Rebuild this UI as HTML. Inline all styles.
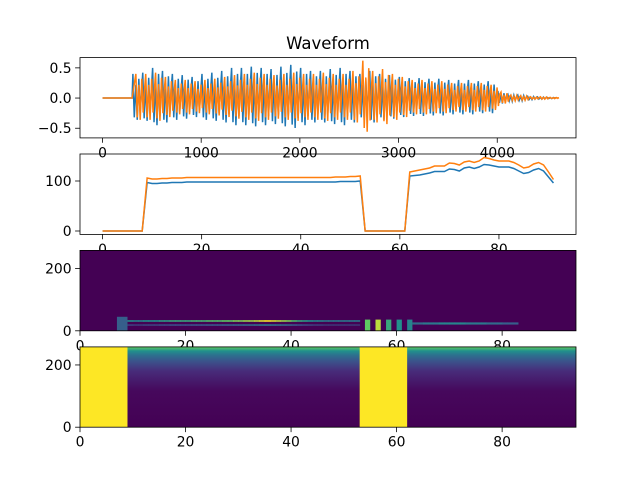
<!DOCTYPE html>
<html><head><meta charset="utf-8"><style>
html,body{margin:0;padding:0;background:#fff}
svg{display:block;font-family:"DejaVu Sans","Liberation Sans",sans-serif}
</style></head><body>
<svg id="fig" width="640" height="480" viewBox="0 0 640 480" xmlns="http://www.w3.org/2000/svg">
<defs>
<linearGradient id="vgrad" x1="0" y1="1" x2="0" y2="0">
<stop offset="0" stop-color="#440154"/><stop offset="0.45" stop-color="#46085c"/>
<stop offset="0.7" stop-color="#472c7a"/><stop offset="0.82" stop-color="#3b528b"/>
<stop offset="0.9" stop-color="#2c728e"/><stop offset="0.95" stop-color="#21918c"/>
<stop offset="1" stop-color="#5ec962"/></linearGradient>
</defs>
<text x="328" y="49" font-size="16.5" text-anchor="middle">Waveform</text>
</svg>
<script>
// ---- data ----
const waveBins = [300,400,500,600,700,800,900,1000,1100,1200,1300,1400,1500,1600,1700,1800,1900,2000,2100,2200,2300,2400,2500,2600,2700,2800,2900,3000,3100,3200,3300,3400,3500,3600,3700,3800,3900,4000,4100,4200,4300,4400,4500];
const waveBlue = [0.40,0.42,0.50,0.45,0.40,0.38,0.35,0.40,0.42,0.45,0.50,0.50,0.52,0.50,0.48,0.52,0.55,0.50,0.45,0.45,0.48,0.50,0.45,0.40,0.45,0.40,0.38,0.35,0.33,0.33,0.32,0.32,0.30,0.30,0.30,0.28,0.28,0.10,0.06,0.05,0.03,0.02,0.01];
const waveOrange = [0.40,0.40,0.42,0.35,0.30,0.30,0.28,0.30,0.32,0.35,0.38,0.40,0.42,0.40,0.38,0.40,0.42,0.40,0.40,0.42,0.40,0.40,0.45,0.62,0.45,0.48,0.40,0.35,0.30,0.30,0.28,0.28,0.25,0.25,0.25,0.25,0.22,0.10,0.05,0.04,0.02,0.02,0.01];
const waveEnd = 4570;
const pitchBlue = [0,0,0,0,0,0,0,0,0,97,95,95,96,96,97,97,97,98,98,98,98,98,98,98,98,98,98,98,98,98,98,98,98,98,98,98,98,98,98,98,98,98,98,98,98,98,98,98,99,99,99,99,100,0,0,0,0,0,0,0,0,0,110,111,112,114,116,119,119,119,124,123,120,126,128,125,128,133,132,130,128,128,128,125,120,115,117,122,125,120,108,96];
const pitchOrange = [0,0,0,0,0,0,0,0,0,106,104,104,105,105,106,106,106,107,107,107,107,107,107,107,107,107,107,107,107,107,107,107,107,107,107,107,107,107,107,107,107,107,107,107,107,107,107,108,108,108,109,109,110,0,0,0,0,0,0,0,0,0,118,120,122,124,126,130,130,130,136,135,132,138,140,137,140,147,145,142,140,140,140,137,132,126,128,134,137,132,118,103];
const specLineStart = 9, specLineBin = 30;
const specLineLevel = [0.5,0.45,0.45,0.5,0.5,0.5,0.55,0.55,0.6,0.6,0.6,0.6,0.65,0.65,0.65,0.7,0.7,0.7,0.75,0.75,0.8,0.8,0.85,0.85,0.9,0.95,1.0,0.95,0.9,0.85,0.8,0.7,0.6,0.55,0.5,0.45,0.45,0.4,0.4,0.4,0.4,0.4,0.4,0.4];
const stripeFrames = [54,56,58,60,62];
const stripeLevels = [0.75,0.9,0.6,0.5,0.45];
const tailLevel = [0.35,0.35,0.4,0.4,0.4,0.45,0.45,0.45,0.45,0.45,0.4,0.4,0.4,0.4,0.35,0.35,0.35,0.3,0.3,0.3];
const silentSpans = [[0,9],[53,62]];
const wTicks=[0,1000,2000,3000,4000], wYTicks=[-0.5,0,0.5], wYLabels=["\u22120.5","0.0","0.5"];
const fTicks=[0,20,40,60,80], pYTicks=[0,100], sYTicks=[0,200];

// ---- helpers ----
const NS="http://www.w3.org/2000/svg", svg=document.getElementById('fig');
function el(t,a,p){const e=document.createElementNS(NS,t);for(const k in a)e.setAttribute(k,a[k]);(p||svg).appendChild(e);return e;}
function lin(d0,d1,r0,r1){return v=>r0+(v-d0)/(d1-d0)*(r1-r0);}
function viridis(t){const c=[[68,1,84],[59,82,139],[33,145,140],[94,201,98],[253,231,37]];t=Math.max(0,Math.min(1,t))*4;const i=Math.min(3,Math.floor(t)),f=t-i;return 'rgb('+c[i].map((v,k)=>Math.round(v+(c[i+1][k]-v)*f)).join(',')+')';}
const L=80,R=576;
const rows=[[57.6,137.9],[154,234.4],[250.4,330.8],[346.9,427.2]];
function axes(r,name,xs,ys,xt,xl,yt,yl){
  const [t,b]=rows[r];
  const g=el('g',{});
  
  
  xt.forEach((v,i)=>{const x=xs(v);el('line',{x1:x,x2:x,y1:b,y2:b+4.9,stroke:'#000','stroke-width':0.8},g);
    const tx=el('text',{x:x,y:b+19.5,'font-size':13.9,'text-anchor':'middle'},g);tx.textContent=xl[i];
    });
  yt.forEach((v,i)=>{const y=ys(v);el('line',{x1:L-4.9,x2:L,y1:y,y2:y,stroke:'#000','stroke-width':0.8},g);
    const tx=el('text',{x:L-8.4,y:y+5,'font-size':13.9,'text-anchor':'end'},g);tx.textContent=yl[i];
    });
  const fr=el('rect',{x:L,y:t,width:R-L,height:b-t,fill:'none',stroke:'#000','stroke-width':0.8},g);
  
}
// ---- waveform ----
{const [t,b]=rows[0];const xs=lin(-228,4798,L,R),ys=lin(-0.66,0.67,b,t);
 function wpath(arr,off){let p='M'+xs(0)+','+ys(0)+' L'+xs(waveBins[0])+','+ys(0);
  waveBins.forEach((s,i)=>{const a=arr[i];[[8,1],[22,-0.8],[38,0.55],[52,-0.9],[68,0.8],[82,-0.6],[95,0.3]].forEach(([d,k])=>{p+=' L'+xs(s+d+off).toFixed(2)+','+ys(a*k).toFixed(2);});});
  p+=' L'+xs(waveEnd)+','+ys(0);return p;}
 const cp=el('clipPath',{id:'c0'});el('rect',{x:L,y:t,width:R-L,height:b-t},cp);
 const pb=el('path',{d:wpath(waveBlue,0),fill:'none',stroke:'#1f77b4','stroke-width':1.5,'clip-path':'url(#c0)'});
 
 const po=el('path',{d:wpath(waveOrange,30),fill:'none',stroke:'#ff7f0e','stroke-width':1.5,'clip-path':'url(#c0)'});
 
 axes(0,'waveform-axes',xs,ys,wTicks,wTicks.map(String),wYTicks,wYLabels);}
// ---- pitch ----
{const [t,b]=rows[1];const n=pitchBlue.length-1;const xs=lin(-0.05*n,1.05*n,L,R),ys=lin(-6.8,154,b,t);
 const line=arr=>arr.map((v,i)=>(i?'L':'M')+xs(i).toFixed(2)+','+ys(v).toFixed(2)).join(' ');
 const lb=el('path',{d:line(pitchBlue),fill:'none',stroke:'#1f77b4','stroke-width':1.5});
 
 const lo=el('path',{d:line(pitchOrange),fill:'none',stroke:'#ff7f0e','stroke-width':1.5});
 
 axes(1,'pitch-axes',xs,ys,fTicks,fTicks.map(String),pYTicks,pYTicks.map(String));}
// ---- spectrogram ----
{const [t,b]=rows[2];const xs=lin(0,94,L,R),ys=lin(0,258,b,t);
 const bg=el('rect',{x:L,y:t,width:R-L,height:b-t,fill:'#440154'});
 
 const w=xs(1)-xs(0);
 const blk=el('rect',{x:xs(7),y:ys(45),width:w*2,height:ys(0)-ys(45),fill:viridis(0.3)});
 
 specLineLevel.forEach((v,i)=>{const f=specLineStart+i;const r=el('rect',{x:xs(f),y:ys(specLineBin+4),width:w+0.5,height:ys(specLineBin-1)-ys(specLineBin+4),fill:viridis(v)});
   
   const r2=el('rect',{x:xs(f),y:ys(specLineBin-9),width:w+0.5,height:ys(specLineBin-14)-ys(specLineBin-9),fill:viridis(v*0.4)});
   });
 stripeFrames.forEach((f,i)=>{const r=el('rect',{x:xs(f),y:ys(specLineBin+6),width:w,height:ys(0)-ys(specLineBin+6),fill:viridis(stripeLevels[i])});
   });
 tailLevel.forEach((v,i)=>{const f=63+i;const r=el('rect',{x:xs(f),y:ys(specLineBin-3),width:w+0.5,height:ys(specLineBin-10)-ys(specLineBin-3),fill:viridis(v)});
   });
 axes(2,'spectrogram-axes',xs,ys,fTicks,fTicks.map(String),sYTicks,sYTicks.map(String));}
// ---- silence map ----
{const [t,b]=rows[3];const xs=lin(0,94,L,R),ys=lin(0,258,b,t);
 const bg=el('rect',{x:L,y:t,width:R-L,height:b-t,fill:'url(#vgrad)'});
 
 silentSpans.forEach(([a,c])=>{const r=el('rect',{x:xs(a),y:t,width:xs(c)-xs(a),height:b-t,fill:'#fde725'});
   });
 axes(3,'silence-axes',xs,ys,fTicks,fTicks.map(String),sYTicks,sYTicks.map(String));}
</script>
</body></html>
